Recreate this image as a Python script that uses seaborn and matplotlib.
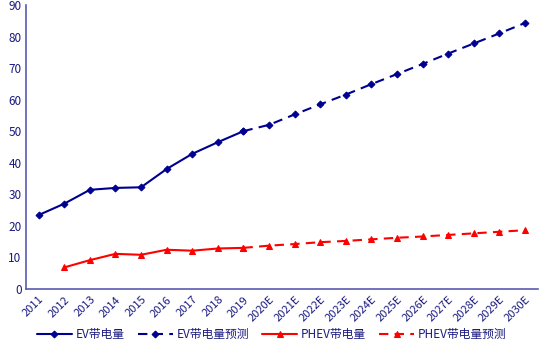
import matplotlib
matplotlib.use("Agg")
import matplotlib.pyplot as plt
import seaborn as sns
import pandas as pd
import numpy as np

years = ["2011", "2012", "2013", "2014", "2015", "2016", "2017", "2018", "2019",
         "2020E", "2021E", "2022E", "2023E", "2024E", "2025E", "2026E", "2027E",
         "2028E", "2029E", "2030E"]
ev_actual = [23.4, 27.0, 31.4, 32.0, 32.2, 38.0, 42.8, 46.5, 50.0]
ev_forecast = [50.0, 52.0, 55.3, 58.5, 61.6, 64.9, 68.1, 71.3, 74.6, 77.8, 81.0, 84.3]
phev_actual = [None, 6.8, 9.1, 11.1, 10.8, 12.4, 12.1, 12.8, 13.0]
phev_forecast = [13.0, 13.7, 14.2, 14.8, 15.2, 15.7, 16.2, 16.6, 17.1, 17.6, 18.1, 18.6]
labels = ["EV带电量", "EV带电量预测", "PHEV带电量", "PHEV带电量预测"]

sns.set_style("white")
plt.rcParams['font.family'] = ['Noto Sans CJK SC', 'DejaVu Sans']

navy = "#000090"
red = "#ff0000"
axis_col = "#5a5ab0"
text_col = "#1a1a80"

fig = plt.figure(figsize=(5.5, 3.54), dpi=100)
ax = fig.add_axes([0.047, 0.184, 0.931, 0.802])

pos = {y: i for i, y in enumerate(years)}
df_ea = pd.DataFrame({"x": [pos[y] for y in years[:9]], "v": ev_actual})
df_ef = pd.DataFrame({"x": [pos[y] for y in years[8:]], "v": ev_forecast})
df_pa = pd.DataFrame({"x": [pos[y] for y in years[:9]], "v": phev_actual}).dropna()
df_pf = pd.DataFrame({"x": [pos[y] for y in years[8:]], "v": phev_forecast})

sns.lineplot(data=df_ea, x="x", y="v", ax=ax, color=navy, lw=1.5, marker="D",
             markersize=3.5, markeredgecolor=navy, label=labels[0])
sns.lineplot(data=df_ef, x="x", y="v", ax=ax, color=navy, lw=1.5, marker="D",
             markersize=3.5, markeredgecolor=navy, dashes=(4.5, 3), label=labels[1])
sns.lineplot(data=df_pa, x="x", y="v", ax=ax, color=red, lw=1.5, marker="^",
             markersize=4.5, markeredgecolor=red, label=labels[2])
sns.lineplot(data=df_pf, x="x", y="v", ax=ax, color=red, lw=1.5, marker="^",
             markersize=4.5, markeredgecolor=red, dashes=(4.5, 3), label=labels[3])

ax.set_xlim(-0.5, len(years) - 0.5)
ax.set_ylim(0, 90)
ax.set_yticks(range(0, 91, 10))
ax.set_xticks(range(len(years)))
ax.set_xticklabels(years, rotation=45, ha="right", rotation_mode="anchor")
ax.set_xticks(np.arange(-0.5, len(years), 1), minor=True)
ax.tick_params(axis="x", which="major", length=0, labelsize=8, labelcolor=text_col, pad=4)
ax.tick_params(axis="x", which="minor", direction="in", length=4, color=axis_col, width=1)
ax.tick_params(axis="y", direction="in", length=4, color=axis_col, width=1,
               labelsize=8.5, labelcolor=text_col, pad=3)
ax.set_xlabel("")
ax.set_ylabel("")
for s in ["top", "right"]:
    ax.spines[s].set_visible(False)
for s in ["left", "bottom"]:
    ax.spines[s].set_color(axis_col)
    ax.spines[s].set_linewidth(1.2)

leg = ax.legend(loc="center", bbox_to_anchor=(0.48, -0.162), ncol=4, frameon=False,
                fontsize=8.5, handlelength=3.0, columnspacing=1.1, handletextpad=0.3,
                borderpad=0.1)
for t in leg.get_texts():
    t.set_color(text_col)

fig.savefig("out.png", dpi=100)
